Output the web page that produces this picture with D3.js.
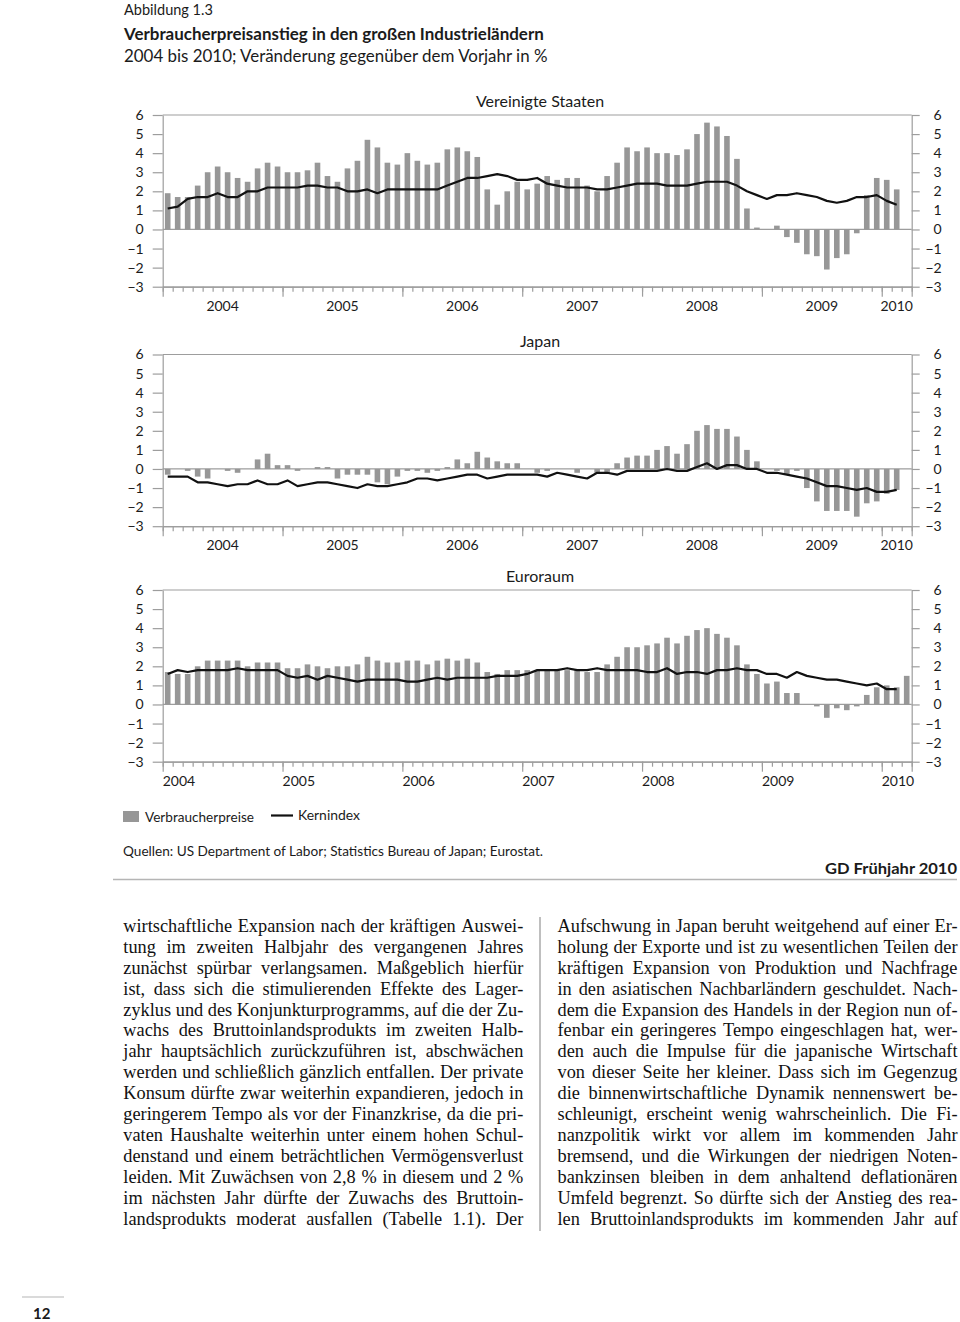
<!DOCTYPE html>
<html><head><meta charset="utf-8">
<script src="https://cdn.jsdelivr.net/npm/d3@7"></script>
<style>body{margin:0;background:#fff} svg{display:block}</style>
</head><body>
<svg id="c" width="960" height="1322"></svg>
<script>
// ---------- data ----------
const months = [
 "2004-01","2004-02","2004-03","2004-04","2004-05","2004-06","2004-07","2004-08","2004-09","2004-10","2004-11","2004-12",
 "2005-01","2005-02","2005-03","2005-04","2005-05","2005-06","2005-07","2005-08","2005-09","2005-10","2005-11","2005-12",
 "2006-01","2006-02","2006-03","2006-04","2006-05","2006-06","2006-07","2006-08","2006-09","2006-10","2006-11","2006-12",
 "2007-01","2007-02","2007-03","2007-04","2007-05","2007-06","2007-07","2007-08","2007-09","2007-10","2007-11","2007-12",
 "2008-01","2008-02","2008-03","2008-04","2008-05","2008-06","2008-07","2008-08","2008-09","2008-10","2008-11","2008-12",
 "2009-01","2009-02","2009-03","2009-04","2009-05","2009-06","2009-07","2009-08","2009-09","2009-10","2009-11","2009-12",
 "2010-01","2010-02","2010-03"];
const years = ["2004","2005","2006","2007","2008","2009","2010"];
const yTicks = [6,5,4,3,2,1,0,-1,-2,-3];

const usCPI = [1.9,1.7,1.7,2.3,3.0,3.3,3.0,2.7,2.5,3.2,3.5,3.3,
  3.0,3.0,3.1,3.5,2.8,2.5,3.2,3.6,4.7,4.3,3.5,3.4,
  4.0,3.6,3.4,3.5,4.2,4.3,4.1,3.8,2.1,1.3,2.0,2.5,
  2.1,2.4,2.8,2.6,2.7,2.7,2.3,2.0,2.8,3.5,4.3,4.1,
  4.3,4.0,4.0,3.9,4.2,5.0,5.6,5.4,4.9,3.7,1.1,0.1,
  0.0,0.2,-0.4,-0.7,-1.3,-1.4,-2.1,-1.5,-1.3,-0.2,1.8,2.7,
  2.6,2.1];
const usCore = [1.1,1.2,1.6,1.7,1.7,1.9,1.7,1.7,2.0,2.0,2.2,2.2,
  2.2,2.2,2.3,2.3,2.2,2.2,2.0,2.0,2.1,1.9,2.1,2.1,
  2.1,2.1,2.1,2.1,2.3,2.5,2.7,2.7,2.8,2.9,2.8,2.6,
  2.6,2.7,2.4,2.3,2.2,2.2,2.2,2.1,2.1,2.2,2.3,2.4,
  2.4,2.4,2.3,2.3,2.3,2.4,2.5,2.5,2.5,2.3,2.0,1.8,
  1.6,1.8,1.8,1.9,1.8,1.7,1.5,1.4,1.5,1.7,1.7,1.8,
  1.5,1.3];

const jpCPI = [-0.3,0.0,-0.1,-0.4,-0.5,0.0,-0.1,-0.2,0.0,0.5,0.8,0.2,
  0.2,-0.1,0.0,0.1,0.1,-0.5,-0.3,-0.3,-0.3,-0.7,-0.8,-0.4,
  -0.1,-0.1,-0.2,-0.1,0.1,0.5,0.3,0.9,0.6,0.4,0.3,0.3,
  0.0,-0.2,-0.1,0.0,0.0,-0.2,0.0,-0.2,-0.2,0.3,0.6,0.7,
  0.7,1.0,1.2,0.8,1.3,2.0,2.3,2.1,2.1,1.7,1.0,0.4,
  0.0,-0.1,-0.3,-0.1,-1.0,-1.7,-2.2,-2.2,-2.2,-2.5,-1.8,-1.7,
  -1.3,-1.1];
const jpCore = [-0.4,-0.4,-0.4,-0.7,-0.7,-0.8,-0.9,-0.8,-0.8,-0.6,-0.8,-0.8,
  -0.6,-0.9,-0.8,-0.7,-0.7,-0.8,-0.9,-1.0,-0.8,-0.9,-0.9,-0.8,
  -0.7,-0.5,-0.5,-0.6,-0.5,-0.4,-0.3,-0.3,-0.5,-0.4,-0.3,-0.3,
  -0.3,-0.3,-0.4,-0.2,-0.3,-0.4,-0.5,-0.2,-0.2,-0.3,-0.1,-0.1,
  -0.1,-0.1,0.0,-0.1,-0.1,0.1,0.3,0.0,0.2,0.2,0.0,0.0,
  -0.2,-0.2,-0.3,-0.4,-0.5,-0.7,-0.9,-0.9,-1.0,-1.1,-1.0,-1.2,
  -1.2,-1.1];

const euCPI = [1.7,1.6,1.6,2.0,2.3,2.3,2.3,2.3,2.0,2.2,2.2,2.2,
  1.9,1.9,2.1,2.0,1.9,2.0,2.0,2.1,2.5,2.3,2.2,2.2,
  2.3,2.3,2.1,2.3,2.4,2.3,2.4,2.2,1.7,1.6,1.8,1.8,
  1.8,1.8,1.8,1.8,1.8,1.8,1.7,1.7,2.1,2.5,3.0,3.0,
  3.1,3.2,3.5,3.2,3.6,3.9,4.0,3.7,3.5,3.1,2.1,1.6,
  1.1,1.2,0.6,0.6,0.0,-0.1,-0.7,-0.2,-0.3,-0.1,0.5,0.9,
  1.0,0.9,1.5];
const euCore = [1.6,1.8,1.7,1.8,1.8,1.8,1.8,1.9,1.8,1.8,1.8,1.8,
  1.5,1.4,1.5,1.3,1.5,1.4,1.3,1.2,1.3,1.3,1.3,1.3,
  1.2,1.2,1.3,1.4,1.3,1.4,1.4,1.4,1.4,1.5,1.5,1.5,
  1.6,1.8,1.8,1.8,1.9,1.8,1.8,1.9,1.8,1.8,1.8,1.8,
  1.7,1.7,1.9,1.6,1.7,1.7,1.6,1.8,1.8,1.9,1.8,1.8,
  1.6,1.6,1.4,1.7,1.5,1.4,1.3,1.3,1.2,1.1,1.0,1.1,
  0.8,0.8];

const panelTitles = ["Vereinigte Staaten","Japan","Euroraum"];
const legendLabels = ["Verbraucherpreise","Kernindex"];

const leftText = [
 "wirtschaftliche Expansion nach der kräftigen Auswei-",
 "tung im zweiten Halbjahr des vergangenen Jahres",
 "zunächst spürbar verlangsamen. Maßgeblich hierfür",
 "ist, dass sich die stimulierenden Effekte des Lager-",
 "zyklus und des Konjunkturprogramms, auf die der Zu-",
 "wachs des Bruttoinlandsprodukts im zweiten Halb-",
 "jahr hauptsächlich zurückzuführen ist, abschwächen",
 "werden und schließlich gänzlich entfallen. Der private",
 "Konsum dürfte zwar weiterhin expandieren, jedoch in",
 "geringerem Tempo als vor der Finanzkrise, da die pri-",
 "vaten Haushalte weiterhin unter einem hohen Schul-",
 "denstand und einem beträchtlichen Vermögensverlust",
 "leiden. Mit Zuwächsen von 2,8 % in diesem und 2 %",
 "im nächsten Jahr dürfte der Zuwachs des Bruttoin-",
 "landsprodukts moderat ausfallen (Tabelle 1.1). Der"];
const rightText = [
 "Aufschwung in Japan beruht weitgehend auf einer Er-",
 "holung der Exporte und ist zu wesentlichen Teilen der",
 "kräftigen Expansion von Produktion und Nachfrage",
 "in den asiatischen Nachbarländern geschuldet. Nach-",
 "dem die Expansion des Handels in der Region nun of-",
 "fenbar ein geringeres Tempo eingeschlagen hat, wer-",
 "den auch die Impulse für die japanische Wirtschaft",
 "von dieser Seite her kleiner. Dass sich im Gegenzug",
 "die binnenwirtschaftliche Dynamik nennenswert be-",
 "schleunigt, erscheint wenig wahrscheinlich. Die Fi-",
 "nanzpolitik wirkt vor allem im kommenden Jahr",
 "bremsend, und die Wirkungen der niedrigen Noten-",
 "bankzinsen bleiben in dem anhaltend deflationären",
 "Umfeld begrenzt. So dürfte sich der Anstieg des rea-",
 "len Bruttoinlandsprodukts im kommenden Jahr auf"];

// ---------- drawing ----------
const svg = d3.select("#c");
const SANS = "Lato, 'Open Sans', sans-serif";
const BAR = "#979797", AX = "#9d9d9d", INK = "#1b1b1b";

function fit(sel, w) {
  const L = sel.node().getComputedTextLength();
  const fs = parseFloat(sel.style("font-size"));
  sel.style("font-size", (fs * w / L) + "px");
}
function squeeze(sel, w) {
  sel.attr("textLength", w).attr("lengthAdjust", "spacingAndGlyphs");
}

// header
fit(svg.append("text").attr("x",124).attr("y",15).style("font-family",SANS).style("font-size","14px")
  .attr("fill",INK).text("Abbildung 1.3"), 89);
fit(svg.append("text").attr("x",124).attr("y",40).style("font-family",SANS).style("font-size","16px")
  .style("font-weight","bold").attr("fill",INK).text("Verbraucherpreisanstieg in den großen Industrieländern"), 420);
fit(svg.append("text").attr("x",124).attr("y",61.5).style("font-family",SANS).style("font-size","16px")
  .attr("fill",INK).text("2004 bis 2010; Veränderung gegenüber dem Vorjahr in %"), 424);

const x = d3.scaleLinear().domain([0, months.length]).range([162.7, 911.7]);
const fmt = d => d < 0 ? "\u2212" + Math.abs(d) : String(d);

function panel(top, title, cpi, core, leftLabels) {
  const y = d3.scaleLinear().domain([-3, 6]).range([top + 171.7, top]);
  const g = svg.append("g");

  [6, 0].forEach(v => g.append("line").attr("x1", x(0)).attr("x2", x(months.length))
    .attr("y1", y(v)).attr("y2", y(v)).attr("stroke", AX).attr("stroke-width", 1.2));

  const la = g.append("g").attr("transform", `translate(${x(0)},0)`)
    .call(d3.axisLeft(y).tickValues(yTicks).tickSize(10).tickSizeOuter(0).tickPadding(9).tickFormat(fmt));
  const ra = g.append("g").attr("transform", `translate(${x(months.length)},0)`)
    .call(d3.axisRight(y).tickValues(yTicks).tickSize(8).tickSizeOuter(0).tickFormat(fmt));
  ra.selectAll("text").attr("x", 30).attr("text-anchor", "end");
  [la, ra].forEach(a => {
    a.select(".domain").attr("stroke", AX).attr("stroke-width", 1.2);
    a.selectAll(".tick line").attr("stroke", AX).attr("stroke-width", 1.2);
    a.selectAll("text").style("font-family", SANS).style("font-size", "14px").attr("fill", INK);
  });

  const ba = g.append("g").attr("transform", `translate(0,${y(-3)})`)
    .call(d3.axisBottom(x).tickValues(d3.range(0, months.length + 1)).tickSize(5).tickSizeOuter(0).tickFormat(""));
  const ya = g.append("g").attr("transform", `translate(0,${y(-3)})`)
    .call(d3.axisBottom(x).tickValues(years.map((yr, k) => k * 12).concat([months.length])).tickSize(10).tickSizeOuter(0).tickFormat(""));
  [ba, ya].forEach(a => {
    a.select(".domain").attr("stroke", AX).attr("stroke-width", 1.2);
    a.selectAll(".tick line").attr("stroke", AX).attr("stroke-width", 1.2);
  });

  years.forEach((yr, k) => {
    const s = k * 12, e = Math.min(s + 12, months.length);
    g.append("text")
      .attr("x", leftLabels ? x(s) : x((s + e) / 2))
      .attr("y", y(-3) + 24)
      .attr("text-anchor", leftLabels ? "start" : "middle")
      .style("font-family", SANS).style("font-size", "14px").attr("fill", INK)
      .text(yr);
  });

  g.append("text").attr("x", 540).attr("y", top - 8).attr("text-anchor", "middle")
    .style("font-family", SANS).style("font-size", "16px").attr("fill", INK).text(title);

  const bw = 5.6;
  g.append("g").selectAll("rect").data(cpi).join("rect")
    .attr("x", (d, i) => x(i + 0.5) - bw / 2)
    .attr("width", bw)
    .attr("y", d => y(Math.max(0, d)))
    .attr("height", d => Math.abs(y(d) - y(0)))
    .attr("fill", BAR);

  g.append("path").datum(core)
    .attr("d", d3.line().x((d, i) => x(i + 0.5)).y(d => y(d)))
    .attr("fill", "none").attr("stroke", "#111").attr("stroke-width", 2.2)
    .attr("stroke-linejoin", "round");
}

panel(115, panelTitles[0], usCPI, usCore, false);
panel(354.5, panelTitles[1], jpCPI, jpCore, false);
panel(590, panelTitles[2], euCPI, euCore, true);

// legend
svg.append("rect").attr("x", 123).attr("y", 811).attr("width", 16).attr("height", 11).attr("fill", BAR);
squeeze(svg.append("text").attr("x", 145).attr("y", 821.5).style("font-family", SANS).style("font-size", "14px")
  .attr("fill", INK).text(legendLabels[0]), 109);
svg.append("line").attr("x1", 271).attr("x2", 293).attr("y1", 815.5).attr("y2", 815.5)
  .attr("stroke", "#111").attr("stroke-width", 2.2);
squeeze(svg.append("text").attr("x", 298).attr("y", 820).style("font-family", SANS).style("font-size", "14px")
  .attr("fill", INK).text(legendLabels[1]), 62);

// sources
squeeze(svg.append("text").attr("x", 123).attr("y", 855.5).style("font-family", SANS).style("font-size", "14px")
  .attr("fill", INK).text("Quellen: US Department of Labor; Statistics Bureau of Japan; Eurostat."), 420);
squeeze(svg.append("text").attr("x", 825).attr("y", 874)
  .style("font-family", SANS).style("font-size", "15px").style("font-weight", "bold")
  .attr("fill", INK).text("GD Frühjahr 2010"), 132);
svg.append("line").attr("x1", 113).attr("x2", 957).attr("y1", 879.5).attr("y2", 879.5)
  .attr("stroke", "#b5b5b5").attr("stroke-width", 1.5);

// body text (justified)
const SERIF = "'Liberation Serif', 'Times New Roman', serif";
function measure(str, fs) {
  const t = svg.append("text").style("font-family", SERIF).style("font-size", fs + "px").text(str);
  const w = t.node().getComputedTextLength();
  t.remove();
  return w;
}
const colW = 400;
const baseFs = 16;
const maxNat = d3.max(leftText.concat(rightText), l => measure(l, baseFs));
const bodyFs = baseFs * colW / maxNat;

function column(lines, x0, x1, y0, lh) {
  const W = x1 - x0;
  lines.forEach((line, k) => {
    const t = svg.append("text").attr("y", y0 + k * lh)
      .style("font-family", SERIF).style("font-size", bodyFs + "px").attr("fill", "#111");
    const words = line.split(" ");
    const widths = words.map(w => measure(w, bodyFs));
    const total = d3.sum(widths);
    const gap = words.length > 1 ? (W - total) / (words.length - 1) : 0;
    let cx = x0;
    words.forEach((w, i) => {
      t.append("tspan").attr("x", cx).text(w);
      cx += widths[i] + gap;
    });
  });
}
column(leftText, 123.3, 523.3, 931.7, 20.95);
column(rightText, 557.5, 957.5, 931.7, 20.95);
svg.append("line").attr("x1", 540).attr("x2", 540).attr("y1", 917).attr("y2", 1231)
  .attr("stroke", "#aaa").attr("stroke-width", 1.5);

// page number
svg.append("line").attr("x1", 22).attr("x2", 64).attr("y1", 1297).attr("y2", 1297)
  .attr("stroke", "#b5b5b5").attr("stroke-width", 1.2);
svg.append("text").attr("x", 33).attr("y", 1319).style("font-family", SANS).style("font-size", "15px")
  .style("font-weight", "bold").attr("fill", INK).text("12");
</script>
</body></html>
